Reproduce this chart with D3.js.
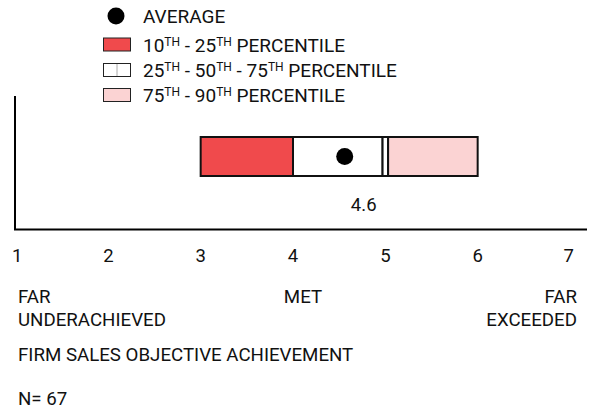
<!DOCTYPE html>
<html>
<head>
<meta charset="utf-8">
<script src="https://cdn.jsdelivr.net/npm/d3@7"></script>
<style>
body { margin: 0; background: #fff; }
text { font-family: Roboto, "Liberation Sans", sans-serif; fill: #111; }
</style>
</head>
<body>
<div id="chart"></div>
<script>
var ticks = [1, 2, 3, 4, 5, 6, 7]
var p10 = 3.0, p25 = 4.0, p50 = 4.97, p75 = 5.03, p90 = 6.0
var average = 4.56
var avgLabel = "4.6"
var scaleLabels = [
    {v: 1, lines: ["FAR", "UNDERACHIEVED"], anchor: "start"},
    {v: 4, lines: ["MET"], anchor: "middle"},
    {v: 7, lines: ["FAR", "EXCEEDED"], anchor: "end"}
]
var legendRows = [
    {kind: "dot", parts: [["AVERAGE", 0]]},
    {kind: "low", parts: [["10", 0], ["TH", 1], [" - 25", 0], ["TH", 1], [" PERCENTILE", 0]]},
    {kind: "mid", parts: [["25", 0], ["TH", 1], [" - 50", 0], ["TH", 1], [" - 75", 0], ["TH", 1], [" PERCENTILE", 0]]},
    {kind: "high", parts: [["75", 0], ["TH", 1], [" - 90", 0], ["TH", 1], [" PERCENTILE", 0]]}
]
var title = "FIRM SALES OBJECTIVE ACHIEVEMENT"
var nLabel = "N= 67"

var red = "#f04a4c", pink = "#fbd3d3"

var width = 590, height = 411
var svg = d3.select("#chart").append("svg")
    .attr("width", width).attr("height", height)

var x = d3.scaleLinear().domain([1, 7]).range([16, 570])

// legend
var lg = svg.append("g")
var rowY = [16, 44.5, 70, 95]
legendRows.forEach(function (r, i) {
    var cy = rowY[i]
    if (r.kind === "dot") {
        lg.append("circle").attr("cx", 116).attr("cy", cy).attr("r", 8.5).attr("fill", "#000")
    } else {
        lg.append("rect").attr("x", 103.5).attr("y", cy - 6.5).attr("width", 27).attr("height", 13)
            .attr("fill", r.kind === "low" ? red : r.kind === "high" ? pink : "#fff")
            .attr("stroke", "#222").attr("stroke-width", 1)
        if (r.kind === "mid") {
            lg.append("line").attr("x1", 117).attr("x2", 117).attr("y1", cy - 6).attr("y2", cy + 6)
                .attr("stroke", "#aaa")
        }
    }
    var t = lg.append("text").attr("x", 143).attr("y", cy + 7).style("font-size", "19px")
    var up = 0
    r.parts.forEach(function (p) {
        var target = p[1] ? -6 : 0
        t.append("tspan").text(p[0])
            .style("font-size", p[1] ? "12px" : "19px")
            .attr("dy", target - up)
        up = target
    })
})

// axes frame
svg.append("line").attr("x1", 15).attr("x2", 15).attr("y1", 96).attr("y2", 230)
    .attr("stroke", "#000").attr("stroke-width", 2)
svg.append("line").attr("x1", 14).attr("x2", 587).attr("y1", 229.5).attr("y2", 229.5)
    .attr("stroke", "#000").attr("stroke-width", 2)

svg.selectAll(".tick").data(ticks).enter().append("text")
    .attr("class", "tick")
    .attr("x", function (d) { return x(d) })
    .attr("y", 262)
    .attr("text-anchor", function (d) { return d === 1 ? "start" : d === 7 ? "end" : "middle" })
    .attr("dx", function (d) { return d === 1 ? -4 : d === 7 ? 4 : 0 })
    .style("font-size", "18.5px")
    .text(function (d) { return d })

// box
var by = 137, bh = 39
var segs = [
    {a: p10, b: p25, fill: red},
    {a: p25, b: p50, fill: "#fff"},
    {a: p50, b: p75, fill: "#fff"},
    {a: p75, b: p90, fill: pink}
]
svg.selectAll(".seg").data(segs).enter().append("rect")
    .attr("class", "seg")
    .attr("x", function (d) { return x(d.a) })
    .attr("width", function (d) { return x(d.b) - x(d.a) })
    .attr("y", by).attr("height", bh)
    .attr("fill", function (d) { return d.fill })
    .attr("stroke", "#111").attr("stroke-width", 2)

svg.append("circle").attr("cx", x(average)).attr("cy", by + bh / 2).attr("r", 8.5).attr("fill", "#000")
svg.append("text").attr("x", x(average) + 19).attr("y", 211).attr("text-anchor", "middle")
    .style("font-size", "18.5px").text(avgLabel)

// scale labels
scaleLabels.forEach(function (s) {
    var t = svg.append("text")
        .attr("x", s.v === 1 ? 18 : s.v === 7 ? 577 : x(s.v) + 10)
        .attr("y", 303).attr("text-anchor", s.anchor).style("font-size", "18.7px")
    s.lines.forEach(function (l, i) {
        t.append("tspan").attr("x", t.attr("x")).attr("dy", i ? 22.5 : 0).text(l)
    })
})

svg.append("text").attr("x", 18).attr("y", 361).style("font-size", "18.7px").text(title)
svg.append("text").attr("x", 18).attr("y", 404.5).style("font-size", "18.7px").text(nLabel)
</script>
</body>
</html>
